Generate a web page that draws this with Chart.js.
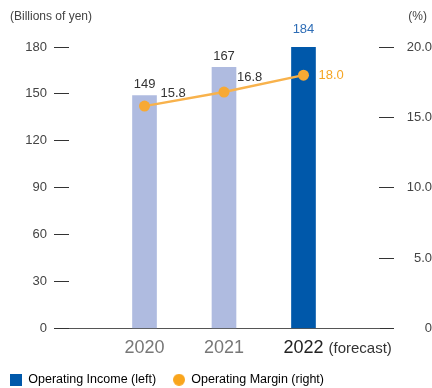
<!DOCTYPE html>
<html>
<head>
<meta charset="utf-8">
<script src="https://cdn.jsdelivr.net/npm/chart.js@4.4.1/dist/chart.umd.min.js"></script>
<style>
  html, body { margin: 0; padding: 0; background: #fff; }
  #wrap { width: 432px; height: 388px; }
</style>
</head>
<body>
<div id="wrap"><canvas id="incomeChart"></canvas></div>
<script>
const years = ['2020', '2021', '2022'];
const forecastNote = '(forecast)';
const incomeValues = [149, 167, 184];     // billions of yen
const marginValues = [15.8, 16.8, 18.0];  // percent
const incomeTicks = [0, 30, 60, 90, 120, 150, 180];
const marginTicks = [0, 5, 10, 15, 20];

const FONT = "'Liberation Sans', Arial, sans-serif";
const LAVENDER = '#afbbe0';
const NAVY = '#0058aa';
const ORANGE = '#f8b24c';
const ORANGE_DOT = '#f7a934';

// legend markers: small square and circle
function marker(shape, color) {
  const c = document.createElement('canvas');
  c.width = 12; c.height = 12;
  const g = c.getContext('2d');
  g.fillStyle = color;
  if (shape === 'rect') g.fillRect(0, 0, 12, 12);
  else { g.beginPath(); g.arc(6, 6, 6, 0, Math.PI * 2); g.fill(); }
  return c;
}

const labelsPlugin = {
  id: 'labels',
  afterDatasetsDraw(chart) {
    const ctx = chart.ctx;
    const x = chart.scales.x;
    const bars = chart.getDatasetMeta(0).data;
    const dots = chart.getDatasetMeta(1).data;
    ctx.save();
    ctx.textBaseline = 'middle';

    // bar values
    ctx.font = '13px ' + FONT;
    ctx.textAlign = 'center';
    bars.forEach((b, i) => {
      ctx.fillStyle = i === bars.length - 1 ? '#2e6db6' : '#333';
      ctx.fillText(String(incomeValues[i]), b.x, b.y - 11);
    });

    // margin values to the right of the points
    const dx = [16, 13, 15];
    const dy = [-13, -15, 0];
    ctx.textAlign = 'left';
    dots.forEach((p, i) => {
      ctx.fillStyle = i === dots.length - 1 ? '#f5a524' : '#333';
      ctx.fillText(marginValues[i].toFixed(1), p.x + dx[i], p.y + dy[i]);
    });

    // year labels under the axis
    const base = chart.chartArea.bottom + 20;
    years.forEach((y, i) => {
      const px = x.getPixelForValue(i);
      const last = i === years.length - 1;
      ctx.font = '18px ' + FONT;
      ctx.textAlign = 'center';
      ctx.fillStyle = last ? '#222' : '#777';
      ctx.fillText(y, px, base);
      if (last) {
        const w = ctx.measureText(y).width;
        ctx.font = '15px ' + FONT;
        ctx.textAlign = 'left';
        ctx.fillStyle = '#333';
        ctx.fillText(forecastNote, px + w / 2 + 5, base);
      }
    });

    // unit captions
    ctx.font = '12px ' + FONT;
    ctx.fillStyle = '#444';
    ctx.textAlign = 'left';
    ctx.fillText('(Billions of yen)', 10, 17);
    ctx.textAlign = 'right';
    ctx.fillText('(%)', 427, 17);
    ctx.restore();
  }
};

new Chart(document.getElementById('incomeChart'), {
  type: 'bar',
  data: {
    datasets: [
      {
        type: 'bar',
        label: 'Operating Income (left)',
        data: incomeValues.map((v, i) => ({ x: i, y: v })),
        backgroundColor: incomeValues.map((v, i) => i === incomeValues.length - 1 ? NAVY : LAVENDER),
        barThickness: 24,
        yAxisID: 'y',
        order: 1
      },
      {
        type: 'line',
        label: 'Operating Margin (right)',
        data: marginValues.map((v, i) => ({ x: i, y: v })),
        borderColor: ORANGE,
        borderWidth: 2.5,
        pointRadius: 5.5,
        pointBackgroundColor: ORANGE_DOT,
        pointBorderWidth: 0,
        yAxisID: 'y1',
        order: 0
      }
    ]
  },
  options: {
    responsive: true,
    maintainAspectRatio: false,
    animation: false,
    layout: { padding: { top: 47, right: 0, left: 0, bottom: -8 } },
    scales: {
      x: {
        type: 'linear',
        offset: false,
        min: -0.95,
        max: 2.95,
        ticks: { display: false },
        grid: { display: false },
        border: { display: true, color: '#555', width: 1 },
        afterFit(s) { s.height = 35; }
      },
      y: {
        position: 'left',
        min: 0,
        max: 180,
        afterBuildTicks(s) { s.ticks = incomeTicks.map(v => ({ value: v })); },
        ticks: { color: '#444', font: { family: FONT, size: 13 }, padding: 7 },
        grid: { drawOnChartArea: false, tickLength: 15, color: '#333' },
        border: { display: false },
        afterFit(s) { s.width = 69; }
      },
      y1: {
        position: 'right',
        min: 0,
        max: 20,
        afterBuildTicks(s) { s.ticks = marginTicks.map(v => ({ value: v })); },
        ticks: {
          color: '#444',
          font: { family: FONT, size: 13 },
          padding: 13,
          crossAlign: 'far',
          callback: v => v === 0 ? '0' : v.toFixed(1)
        },
        grid: { drawOnChartArea: false, tickLength: 15, color: '#333' },
        border: { display: false },
        afterFit(s) { s.width = 53; }
      }
    },
    plugins: {
      tooltip: { enabled: false },
      legend: {
        position: 'bottom',
        align: 'start',
        labels: {
          usePointStyle: true,
          boxWidth: 12,
          boxHeight: 12,
          padding: 10,
          color: '#444',
          font: { family: FONT, size: 12.5 },
          generateLabels: () => [
            { text: 'Operating Income (left)  ', pointStyle: marker('rect', NAVY), fillStyle: NAVY, lineWidth: 0, datasetIndex: 0 },
            { text: 'Operating Margin (right)', pointStyle: marker('circle', '#f9a51c'), fillStyle: ORANGE_DOT, lineWidth: 0, datasetIndex: 1 }
          ]
        }
      }
    }
  },
  plugins: [labelsPlugin]
});
</script>
</body>
</html>
